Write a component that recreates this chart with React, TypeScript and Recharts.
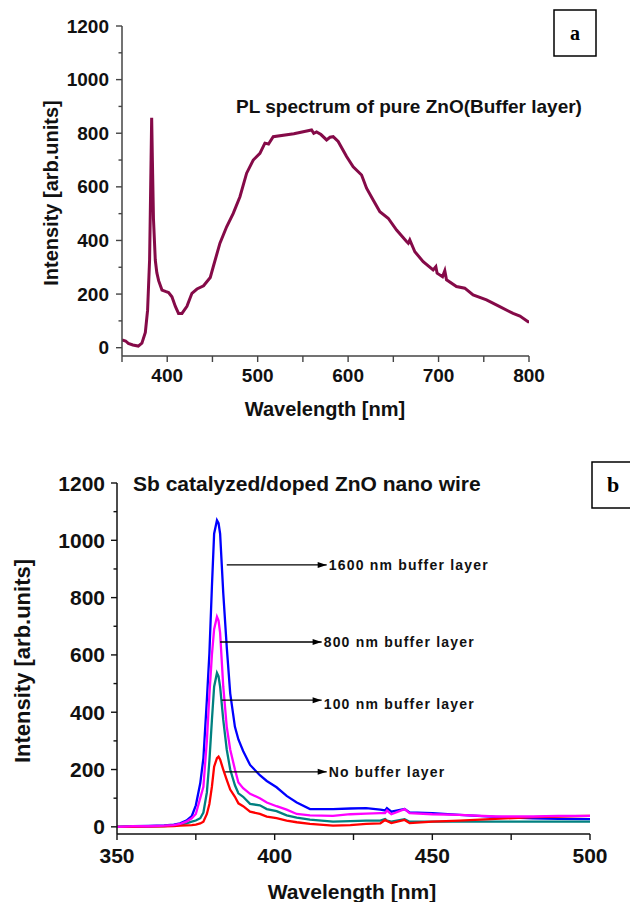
import React from 'react';
import { LineChart, Line, XAxis, YAxis, ReferenceLine } from 'recharts';

const SANS = '"Liberation Sans", Arial, sans-serif';
const SERIF = '"Liberation Serif", "Times New Roman", serif';

// ---------- Panel a: PL spectrum of pure ZnO (buffer layer) ----------
const pureWavelength = [350, 354, 357, 362, 368, 372, 375.8, 378.3, 380.5, 381.5, 382.8, 383.6, 384.8, 386.8, 388.5, 390.5, 394.2, 398, 401.5, 405.2, 409, 412.5, 416.3, 421.8, 427.3, 432.9, 440.2, 447.6, 450.9, 458.3, 465.7, 473, 480.4, 487.8, 495.1, 502.5, 508, 512, 517.2, 540, 559.6, 562, 565.1, 570, 576.2, 580, 583.5, 589, 598.3, 605.6, 614.9, 620.4, 627.7, 635.1, 644.3, 653.6, 664.6, 666.5, 668.2, 673.8, 683, 694, 697, 698.4, 704.4, 706.9, 708.8, 719.8, 729, 738.2, 753, 767.7, 782.4, 790, 799, 800];
const pureIntensity = [29, 25, 16, 10, 6, 17, 57, 140, 327, 551, 858, 700, 480, 327, 280, 250, 215, 210, 206, 190, 154, 128, 128, 154, 203, 219, 231, 262, 302, 390, 451, 501, 563, 651, 700, 725, 763, 760, 787, 798, 812, 800, 805, 795, 775, 785, 787, 769, 713, 675, 644, 595, 551, 507, 483, 439, 396, 390, 402, 358, 321, 290, 302, 278, 265, 287, 253, 228, 222, 197, 178, 153, 128, 118, 97, 97];
const pureXTicks = [350, 400, 450, 500, 550, 600, 650, 700, 750, 800];
const pureXLabels = [400, 500, 600, 700, 800];
const pureYTicks = [0, 100, 200, 300, 400, 500, 600, 700, 800, 900, 1000, 1100, 1200];
const pureYLabels = [0, 200, 400, 600, 800, 1000, 1200];

// ---------- Panel b: Sb catalyzed/doped ZnO nano wire ----------
const nwWavelength = [350, 355, 360, 365, 368, 370, 372, 373.7, 375, 376.4, 377.4, 378.5, 379.3, 380.1, 380.8, 381.7, 382.2, 382.7, 383.7, 384.8, 385.9, 387.4, 388.5, 390, 392.2, 395.3, 397.5, 400.6, 403.8, 407, 411.2, 418.5, 424, 429, 433.5, 435, 435.6, 437, 441.2, 442.8, 450, 458.6, 470, 482, 490, 500];
const buffer1600 = [0, 2, 3, 5, 8, 12, 22, 37, 75, 152, 240, 443, 605, 838, 1023, 1070, 1060, 1023, 815, 628, 466, 349, 305, 265, 216, 180, 160, 138, 108, 85, 62, 62, 64, 65, 60, 57, 65, 53, 62, 50, 48, 42, 35, 30, 28, 27];
const buffer800 = [0, 2, 2, 4, 6, 10, 18, 30, 45, 100, 140, 300, 460, 600, 690, 733, 720, 677, 489, 349, 270, 200, 155, 135, 115, 100, 85, 72, 60, 45, 40, 38, 44, 46, 48, 48, 57, 44, 62, 48, 44, 42, 36, 36, 38, 38];
const buffer100 = [0, 1, 2, 3, 5, 8, 12, 18, 22, 30, 50, 120, 230, 373, 489, 537, 525, 489, 373, 270, 200, 145, 117, 105, 80, 75, 62, 55, 40, 32, 25, 18, 20, 22, 22, 27, 22, 18, 27, 18, 18, 18, 18, 18, 18, 18];
const noBuffer = [0, 0, 1, 2, 3, 4, 5, 6, 8, 12, 18, 45, 80, 140, 210, 240, 245, 235, 200, 164, 130, 105, 82, 72, 53, 45, 36, 30, 22, 16, 10, 4, 6, 10, 12, 24, 20, 13, 24, 13, 18, 22, 28, 34, 36, 38];
const nwXTicks = [350, 375, 400, 425, 450, 475, 500];
const nwXLabels = [350, 400, 450, 500];
const nwYTicks = [0, 100, 200, 300, 400, 500, 600, 700, 800, 900, 1000, 1100, 1200];
const nwYLabels = [0, 200, 400, 600, 800, 1000, 1200];

const annotationText = ['1600 nm buffer layer', '800 nm buffer layer', '100 nm buffer layer', 'No buffer layer'];
const annotationFrom = [384.8, 382.7, 383.2, 384.3];
const annotationTo = [416.5, 414.9, 414.9, 416.5];
const annotationLevel = [914, 645, 442, 192];
const annotationTextShift = [0, 0, 4, 0];

const pureData = pureWavelength.map((w, i) => ({ w, v: pureIntensity[i] }));
const nwData = nwWavelength.map((w, i) => ({
  w,
  b1600: buffer1600[i],
  b800: buffer800[i],
  b100: buffer100[i],
  b0: noBuffer[i],
}));

const makeYTick = (labels: number[], fontSize: number, gap: number, color: string) => (props: any) => {
  const { x, y, payload } = props;
  const v = payload.value;
  const major = labels.includes(v);
  const len = major ? 6 : 3.5;
  return (
    <g>
      <line x1={x - len} y1={y} x2={x} y2={y} stroke={color} strokeWidth={1.4} />
      {major && (
        <text x={x - gap} y={y} textAnchor="end" dominantBaseline="central" fontFamily={SANS} fontWeight="bold" fontSize={fontSize} fill="#111">
          {v}
        </text>
      )}
    </g>
  );
};

const makeXTick = (labels: number[], fontSize: number, offset: number, color: string) => (props: any) => {
  const { x, y, payload } = props;
  const v = payload.value;
  const major = labels.includes(v);
  return (
    <g>
      <line x1={x} y1={y} x2={x} y2={y + 6} stroke={color} strokeWidth={1.4} />
      {major && (
        <text x={x} y={y + offset} textAnchor="middle" dominantBaseline="central" fontFamily={SANS} fontWeight="bold" fontSize={fontSize} fill="#111">
          {v}
        </text>
      )}
    </g>
  );
};

const ArrowLabel = (props: any) => {
  const vb = props.viewBox || {};
  const x = vb.x ?? 0;
  const y = vb.y ?? 0;
  const w = vb.width ?? 0;
  const xe = x + w;
  return (
    <g>
      <polygon points={`${xe - 9},${y - 3} ${xe},${y} ${xe - 9},${y + 3}`} fill="#000" />
      <text x={xe + 2} y={y + props.shift} dominantBaseline="central" fontFamily={SANS} fontWeight="bold" fontSize={14} letterSpacing={1.2} fill="#111">
        {props.text}
      </text>
    </g>
  );
};

export default function App() {
  return (
    <div style={{ position: 'absolute', left: 0, top: 0, width: 630, height: 902, background: '#fff', overflow: 'hidden' }}>
      <div style={{ position: 'absolute', left: 0, top: 0 }}>
        <LineChart width={630} height={440} data={pureData} margin={{ top: 26, right: 101, left: 0, bottom: 0 }}>
          <XAxis
            dataKey="w"
            type="number"
            domain={[350, 800]}
            ticks={pureXTicks}
            interval={0}
            allowDataOverflow
            height={84}
            tickSize={0}
            tickMargin={0}
            axisLine={{ stroke: '#444', strokeWidth: 1.5 }}
            tickLine={false}
            tick={makeXTick(pureXLabels, 19, 19, '#444')}
          />
          <YAxis
            type="number"
            domain={[-31, 1200]}
            ticks={pureYTicks}
            interval={0}
            allowDataOverflow
            width={122}
            tickSize={0}
            tickMargin={0}
            axisLine={{ stroke: '#444', strokeWidth: 1.5 }}
            tickLine={false}
            tick={makeYTick(pureYLabels, 19, 13, '#444')}
          />
          <Line type="linear" dataKey="v" stroke="#850a48" strokeWidth={3} dot={false} isAnimationActive={false} />
        </LineChart>
      </div>
      <div style={{ position: 'absolute', left: 0, top: 440 }}>
        <LineChart width={630} height={462} data={nwData} margin={{ top: 43, right: 40, left: 0, bottom: 0 }}>
          <XAxis
            dataKey="w"
            type="number"
            domain={[350, 500]}
            ticks={nwXTicks}
            interval={0}
            allowDataOverflow
            height={68}
            tickSize={0}
            tickMargin={0}
            axisLine={{ stroke: '#111', strokeWidth: 1.5 }}
            tickLine={false}
            tick={makeXTick(nwXLabels, 21, 21, '#111')}
          />
          <YAxis
            type="number"
            domain={[-25, 1200]}
            ticks={nwYTicks}
            interval={0}
            allowDataOverflow
            width={117}
            tickSize={0}
            tickMargin={0}
            axisLine={{ stroke: '#111', strokeWidth: 1.5 }}
            tickLine={false}
            tick={makeYTick(nwYLabels, 21, 12, '#111')}
          />
          <Line type="linear" dataKey="b1600" stroke="#0000ff" strokeWidth={2.3} dot={false} isAnimationActive={false} />
          <Line type="linear" dataKey="b100" stroke="#008080" strokeWidth={2.3} dot={false} isAnimationActive={false} />
          <Line type="linear" dataKey="b0" stroke="#ff0000" strokeWidth={2.3} dot={false} isAnimationActive={false} />
          <Line type="linear" dataKey="b800" stroke="#ff00ff" strokeWidth={2.3} dot={false} isAnimationActive={false} />
          {annotationText.map((t, i) => (
            <ReferenceLine
              key={t}
              segment={[
                { x: annotationFrom[i], y: annotationLevel[i] },
                { x: annotationTo[i], y: annotationLevel[i] },
              ]}
              stroke="#000"
              strokeWidth={1.3}
              ifOverflow="visible"
              label={{ content: (p: any) => <ArrowLabel viewBox={p.viewBox} text={t} shift={annotationTextShift[i]} /> }}
            />
          ))}
        </LineChart>
      </div>
      <svg width={630} height={902} style={{ position: 'absolute', left: 0, top: 0, pointerEvents: 'none' }}>
        <text x={51} y={193} transform="rotate(-90 51 193)" textAnchor="middle" dominantBaseline="central" fontFamily={SANS} fontWeight="bold" fontSize={20} fill="#111">
          Intensity [arb.units]
        </text>
        <text x={325} y={409} textAnchor="middle" dominantBaseline="central" fontFamily={SANS} fontWeight="bold" fontSize={20} fill="#111">
          Wavelength [nm]
        </text>
        <text x={236} y={106} dominantBaseline="central" fontFamily={SANS} fontWeight="bold" fontSize={19} fill="#111">
          PL spectrum of pure ZnO(Buffer layer)
        </text>
        <rect x={554} y={10} width={42} height={46} fill="none" stroke="#000" strokeWidth={1.5} />
        <text x={575} y={33} textAnchor="middle" dominantBaseline="central" fontFamily={SERIF} fontWeight="bold" fontSize={20} fill="#000">
          a
        </text>
        <text x={133} y={483} dominantBaseline="central" fontFamily={SANS} fontWeight="bold" fontSize={21} fill="#111">
          Sb catalyzed/doped ZnO nano wire
        </text>
        <text x={22} y={661} transform="rotate(-90 22 661)" textAnchor="middle" dominantBaseline="central" fontFamily={SANS} fontWeight="bold" fontSize={22} fill="#111">
          Intensity [arb.units]
        </text>
        <text x={352} y={891} textAnchor="middle" dominantBaseline="central" fontFamily={SANS} fontWeight="bold" fontSize={21} fill="#111">
          Wavelength [nm]
        </text>
        <rect x={592} y={462} width={50} height={46} fill="none" stroke="#000" strokeWidth={1.5} />
        <text x={613} y={484} textAnchor="middle" dominantBaseline="central" fontFamily={SERIF} fontWeight="bold" fontSize={22} fill="#000">
          b
        </text>
      </svg>
    </div>
  );
}
